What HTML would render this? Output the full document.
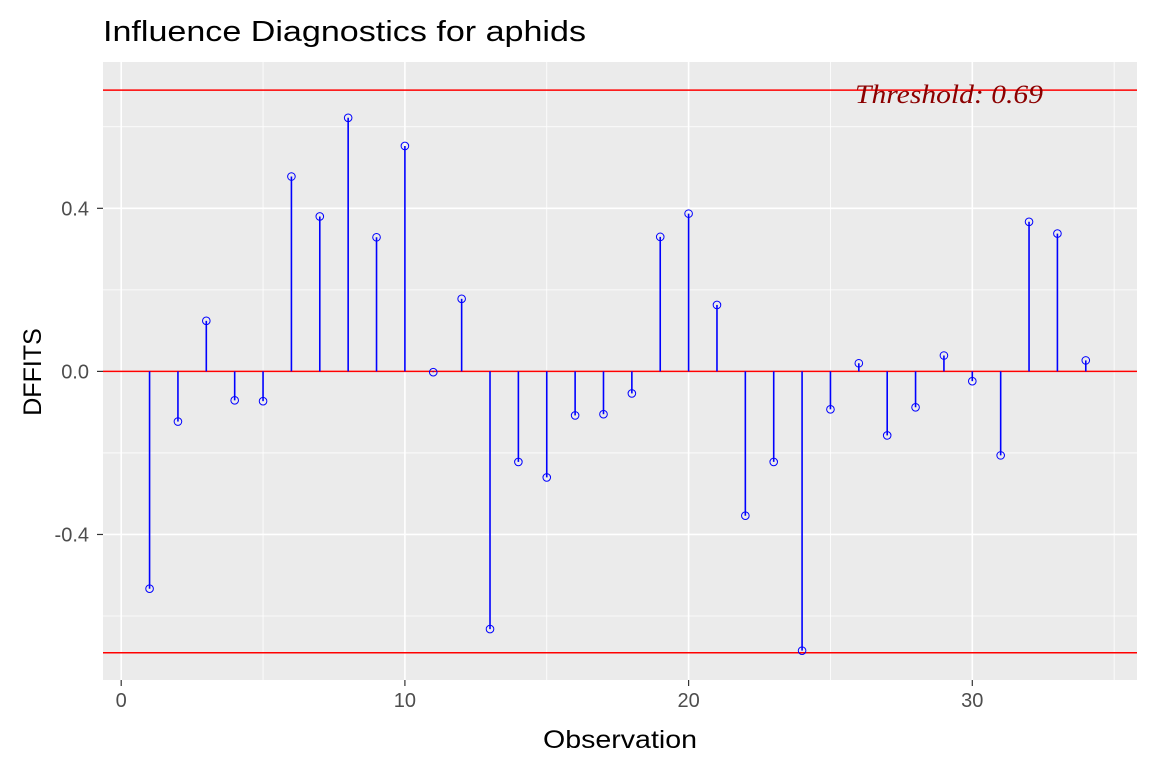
<!DOCTYPE html>
<html><head><meta charset="utf-8"><style>
body{margin:0;background:#fff}
svg{display:block;font-family:"Liberation Sans",sans-serif}
</style></head><body>
<svg id="chart" width="1152" height="768">
<text x="103" y="41" font-size="29" textLength="483" lengthAdjust="spacingAndGlyphs" fill="#000">Influence Diagnostics for aphids</text>
<rect x="103" y="62" width="1034" height="618" fill="#ebebeb"/>
<g id="grid"></g>
<g id="marks"></g>
<g id="axes"></g>
<text x="543" y="748" font-size="25" textLength="154" lengthAdjust="spacingAndGlyphs">Observation</text>
<text transform="translate(41,372) rotate(-90)" font-size="25" text-anchor="middle">DFFITS</text>
</svg>
<script>
const observations=[1,2,3,4,5,6,7,8,9,10,11,12,13,14,15,16,17,18,19,20,21,22,23,24,25,26,27,28,29,30,31,32,33,34];
const dffits=[-0.533,-0.123,0.124,-0.071,-0.073,0.478,0.380,0.622,0.329,0.553,-0.002,0.178,-0.632,-0.222,-0.260,-0.108,-0.105,-0.054,0.330,0.387,0.163,-0.354,-0.222,-0.685,-0.093,0.020,-0.157,-0.088,0.039,-0.024,-0.206,0.367,0.338,0.027];
const threshold=0.69;
const xTicks=[0,10,20,30];
const xMinor=[5,15,25,35];
const yTicks=[-0.4,0.0,0.4];
const yMinor=[-0.6,-0.2,0.2,0.6];
const yTickLabels=["-0.4","0.0","0.4"];
const L=103,R=1137,T=62,B=680;
const xs=v=>121.2+v*28.37;
const ys=v=>371.4-v*407.7;
const NS="http://www.w3.org/2000/svg";
function mk(parent,tag,attrs){const e=document.createElementNS(NS,tag);for(const k in attrs)e.setAttribute(k,attrs[k]);parent.appendChild(e);return e;}
const grid=document.getElementById('grid'),marks=document.getElementById('marks'),axes=document.getElementById('axes');
yMinor.forEach(v=>{const e=mk(grid,'line',{x1:L,x2:R,y1:ys(v),y2:ys(v),stroke:'#fff','stroke-width':0.8});

});
xMinor.forEach(v=>{const e=mk(grid,'line',{x1:xs(v),x2:xs(v),y1:T,y2:B,stroke:'#fff','stroke-width':0.8});

});
yTicks.forEach((v,i)=>{const e=mk(grid,'line',{x1:L,x2:R,y1:ys(v),y2:ys(v),stroke:'#fff','stroke-width':1.6});


const t=mk(axes,'text',{x:89,y:ys(v)+7,'font-size':20,fill:'#4d4d4d','text-anchor':'end'});t.textContent=yTickLabels[i];


const k=mk(axes,'line',{x1:97,x2:103,y1:ys(v),y2:ys(v),stroke:'#333','stroke-width':1.2});

});
xTicks.forEach(v=>{const e=mk(grid,'line',{x1:xs(v),x2:xs(v),y1:T,y2:B,stroke:'#fff','stroke-width':1.6});


const t=mk(axes,'text',{x:xs(v),y:707,'font-size':20,fill:'#4d4d4d','text-anchor':'middle'});t.textContent=String(v);


const k=mk(axes,'line',{x1:xs(v),x2:xs(v),y1:680,y2:686,stroke:'#333','stroke-width':1.2});

});
[threshold,0,-threshold].forEach(v=>{const e=mk(marks,'line',{x1:L,x2:R,y1:ys(v),y2:ys(v),stroke:'#ff0000','stroke-width':1.5});

});
observations.forEach((o,i)=>{const l=mk(marks,'line',{x1:xs(o),x2:xs(o),y1:ys(0),y2:ys(dffits[i]),stroke:'#0000ff','stroke-width':1.6});


const c=mk(marks,'circle',{cx:xs(o),cy:ys(dffits[i]),r:3.8,fill:'none',stroke:'#0000ff','stroke-width':1});

});
const th=mk(marks,'text',{x:855,y:ys(threshold)+13,'font-size':26,fill:'#8b0000','font-style':'italic','font-family':'Liberation Serif, serif',textLength:188,lengthAdjust:'spacingAndGlyphs'});
th.textContent='Threshold: '+threshold;


</script>
</body></html>
